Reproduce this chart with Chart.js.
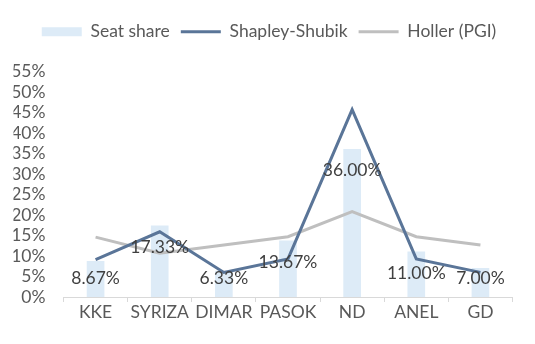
<!DOCTYPE html>
<html>
<head>
<meta charset="utf-8">
<script src="https://cdn.jsdelivr.net/npm/chart.js@4"></script>
<style>
  html, body { margin: 0; padding: 0; background: #fff; }
  #wrap { width: 535px; height: 344px; }
</style>
</head>
<body>
<div id="wrap"><canvas id="c"></canvas></div>
<script>
'use strict'

// parties
const parties = ['KKE', 'SYRIZA', 'DIMAR', 'PASOK', 'ND', 'ANEL', 'GD']

// values in %
const seatShare = [8.67, 17.33, 6.33, 13.67, 36.00, 11.00, 7.00]
const shapleyShubik = [9.1, 15.9, 6.0, 9.3, 45.7, 9.3, 6.0]
const hollerPGI = [14.6, 10.7, 12.7, 14.7, 20.8, 14.7, 12.7]

const seriesNames = ['Seat share', 'Shapley-Shubik', 'Holler (PGI)']

const FONT = 'Lato'
const FS = 17.5

// labels for the seat share bars, drawn near the top of each bar
const barLabels = {
    id: 'barLabels',
    afterDatasetsDraw(chart) {
        const ctx = chart.ctx
        const meta = chart.getDatasetMeta(0)
        ctx.save()
        ctx.font = FS + 'px ' + FONT
        ctx.fillStyle = '#404040'
        ctx.textAlign = 'center'
        ctx.textBaseline = 'middle'
        meta.data.forEach((bar, i) => {
            let y = Math.min(bar.y + 21, bar.base - 19)
            ctx.fillText(seatShare[i].toFixed(2) + '%', bar.x, y)
        })
        ctx.restore()
    }
}

// extra room under the legend, and nudge it a little to the right
const legendGap = {
    id: 'legendGap',
    beforeInit(chart) {
        const legend = chart.legend
        const fit = legend.fit
        const draw = legend.draw
        legend.fit = function () {
            fit.call(this)
            this.height += 21
        }
        legend.draw = function () {
            this.ctx.save()
            this.ctx.translate(6, 0)
            draw.call(this)
            this.ctx.restore()
        }
    }
}

const config = {
    data: {
        labels: parties,
        datasets: [{
            type: 'bar',
            label: seriesNames[0],
            data: seatShare,
            backgroundColor: '#DDEBF7',
            barThickness: 17,
            order: 1
        }, {
            type: 'line',
            label: seriesNames[1],
            data: shapleyShubik,
            borderColor: '#5A7598',
            backgroundColor: '#5A7598',
            borderWidth: 3,
            pointRadius: 0,
            tension: 0,
            order: 0
        }, {
            type: 'line',
            label: seriesNames[2],
            data: hollerPGI,
            borderColor: '#BFBFBF',
            backgroundColor: '#BFBFBF',
            borderWidth: 3,
            pointRadius: 0,
            tension: 0,
            order: 0
        }]
    },
    options: {
        responsive: true,
        maintainAspectRatio: false,
        animation: false,
        layout: {
            padding: { top: 12, left: 13.5, right: 22.5, bottom: 21 }
        },
        scales: {
            x: {
                offset: true,
                grid: {
                    display: true,
                    drawOnChartArea: false,
                    offset: true,
                    color: '#D9D9D9',
                    tickLength: 5,
                    lineWidth: 1
                },
                border: { color: '#D9D9D9', width: 1 },
                ticks: { color: '#595959', font: { family: FONT, size: FS }, padding: 0, autoSkip: false, maxRotation: 0 }
            },
            y: {
                min: 0,
                max: 55,
                grid: { display: false, drawTicks: false },
                border: { display: false },
                afterFit: axis => { axis.width = 50 },
                ticks: {
                    stepSize: 5,
                    autoSkip: false,
                    color: '#595959',
                    font: { family: FONT, size: FS },
                    padding: 18,
                    callback: v => v + '%'
                }
            }
        },
        plugins: {
            legend: {
                position: 'top',
                labels: {
                    usePointStyle: true,
                    pointStyleWidth: 40,
                    padding: 11,
                    color: '#595959',
                    font: { family: FONT, size: FS },
                    generateLabels: chart => chart.data.datasets.map((ds, i) => ({
                        text: ds.label,
                        datasetIndex: i,
                        pointStyle: 'line',
                        fillStyle: ds.backgroundColor,
                        strokeStyle: ds.type === 'bar' ? ds.backgroundColor : ds.borderColor,
                        lineWidth: ds.type === 'bar' ? 9 : 3,
                        lineCap: 'butt',
                        hidden: false,
                        fontColor: '#595959'
                    }))
                }
            },
            tooltip: { enabled: false }
        }
    },
    plugins: [barLabels, legendGap]
}

new Chart(document.getElementById('c').getContext('2d'), config)
</script>
</body>
</html>
